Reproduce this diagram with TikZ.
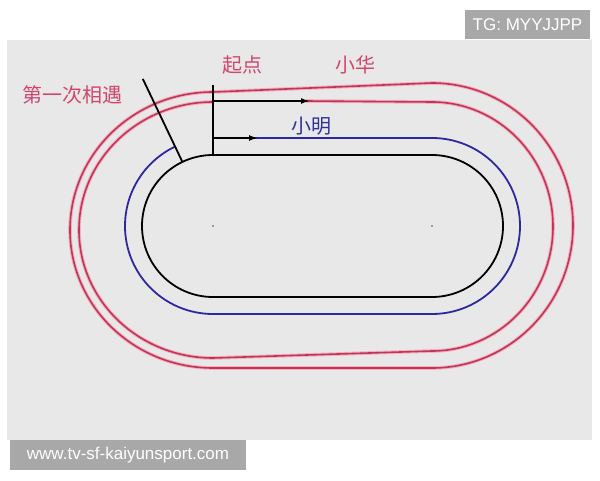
\documentclass[tikz,border=0pt]{standalone}
\usepackage{fontspec}
\setmainfont{Liberation Sans}
\newfontfamily\cjk{Noto Sans CJK SC}
\usetikzlibrary{arrows.meta}
\definecolor{bg}{RGB}{232,232,232}
\definecolor{wm}{RGB}{168,168,168}
\definecolor{trackred}{RGB}{190,55,85}
\definecolor{halo}{RGB}{245,175,195}
\definecolor{trackblue}{RGB}{45,40,160}
\definecolor{labelred}{RGB}{210,70,110}
\definecolor{labelblue}{RGB}{50,50,150}
\begin{document}
\begin{tikzpicture}[x=1pt,y=1pt,
  redtrack/.style={draw=trackred,line width=1.6pt,preaction={draw=halo,line width=3.6pt}},
  bluetrack/.style={draw=trackblue,line width=1.8pt},
  blk/.style={draw=black,line width=1.8pt},
  arrowline/.style={blk,-{Latex[length=9pt,width=6pt]}},
  cjklabel/.style={font=\cjk\fontsize{20}{20}\selectfont,inner sep=0pt},
  wmbox/.style={fill=wm,text=white,inner sep=0pt}]
\useasboundingbox (0,0) rectangle (600,480);
\fill[white] (0,0) rectangle (600,480);
\fill[bg] (7,40) rectangle (592,440);
% outer red track
\draw[redtrack] (213,388) -- (432,397)
  arc[start angle=90,end angle=-90,x radius=141,y radius=142.5] -- (213,112)
  arc[start angle=270,end angle=90,x radius=143,y radius=138] -- cycle;
% inner red track (Xiaohua)
\draw[redtrack] (306,379) -- (432,378)
  arc[start angle=90,end angle=-90,x radius=121,y radius=124.5] -- (213,122)
  arc[start angle=270,end angle=90,x radius=134,y radius=128];
% blue track (Xiaoming)
\draw[bluetrack] (254,342) -- (432,342)
  arc[start angle=90,end angle=-90,radius=88] -- (213,166)
  arc[start angle=270,end angle=115.5,radius=88];
% black inner track
\draw[blk] (213,325) -- (432,325)
  arc[start angle=90,end angle=-90,radius=71] -- (213,183)
  arc[start angle=270,end angle=90,radius=71] -- cycle;
% centre dots
\fill[black!70] (213,254) circle (0.9);
\fill[black!70] (432,254) circle (0.9);
% start line and meeting line
\coordinate (st) at (213,395);
\coordinate (sb) at (213,325);
\draw[blk] (st) -- (sb);
\coordinate (m1) at (182.4,318.1);
\coordinate (m2) at (142.8,401.1);
\draw[blk] (m1) -- (m2);
% arrows
\coordinate (a1s) at (213,379);
\coordinate (a1e) at (310,379);
\draw[arrowline] (a1s) -- (a1e);
\coordinate (a2s) at (213,342);
\coordinate (a2e) at (258,342);
\draw[arrowline] (a2s) -- (a2e);
% labels
\node[cjklabel,text=labelred] (meet) at (73,385) {第一次相遇};
\node[cjklabel,text=labelred] (start) at (242,415) {起点};
\node[cjklabel,text=labelred] (hua) at (355,415) {小华};
\node[cjklabel,text=labelblue] (ming) at (311,354) {小明};
% watermarks
\node[wmbox,minimum width=125,minimum height=29,font=\fontsize{17}{17}\selectfont] (tg) at (527.5,455.5) {TG: MYYJJPP};
\node[wmbox,minimum width=236,minimum height=30,font=\fontsize{17}{17}\selectfont] (www) at (128,25) {www.tv-sf-kaiyunsport.com};
\end{tikzpicture}
\end{document}
